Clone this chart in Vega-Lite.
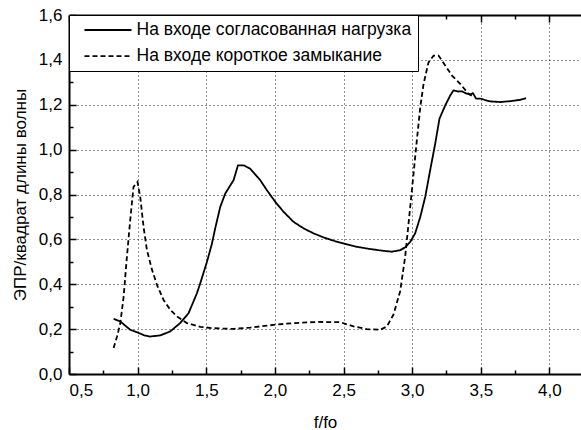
{
  "$schema": "https://vega.github.io/schema/vega-lite/v6.json",
  "width": 512,
  "height": 359,
  "autosize": {"type": "none"},
  "padding": {"left": 69, "top": 15, "right": 0, "bottom": 56},
  "config": {
    "view": {"stroke": null},
    "font": "Liberation Sans",
    "axis": {"labelFont": "Liberation Sans", "titleFont": "Liberation Sans", "labelColor": "#000", "titleColor": "#000", "titleFontWeight": "normal"}
  },
  "datasets": {
    "curves": [
      {"f": 0.825, "v": 0.246, "s": "На входе согласованная нагрузка"},
      {"f": 0.874, "v": 0.234, "s": "На входе согласованная нагрузка"},
      {"f": 0.946, "v": 0.197, "s": "На входе согласованная нагрузка"},
      {"f": 1.0, "v": 0.185, "s": "На входе согласованная нагрузка"},
      {"f": 1.05, "v": 0.172, "s": "На входе согласованная нагрузка"},
      {"f": 1.09, "v": 0.167, "s": "На входе согласованная нагрузка"},
      {"f": 1.165, "v": 0.172, "s": "На входе согласованная нагрузка"},
      {"f": 1.238, "v": 0.19, "s": "На входе согласованная нагрузка"},
      {"f": 1.31, "v": 0.227, "s": "На входе согласованная нагрузка"},
      {"f": 1.371, "v": 0.271, "s": "На входе согласованная нагрузка"},
      {"f": 1.432, "v": 0.36, "s": "На входе согласованная нагрузка"},
      {"f": 1.456, "v": 0.404, "s": "На входе согласованная нагрузка"},
      {"f": 1.505, "v": 0.5, "s": "На входе согласованная нагрузка"},
      {"f": 1.541, "v": 0.58, "s": "На входе согласованная нагрузка"},
      {"f": 1.565, "v": 0.649, "s": "На входе согласованная нагрузка"},
      {"f": 1.602, "v": 0.745, "s": "На входе согласованная нагрузка"},
      {"f": 1.638, "v": 0.804, "s": "На входе согласованная нагрузка"},
      {"f": 1.699, "v": 0.864, "s": "На входе согласованная нагрузка"},
      {"f": 1.731, "v": 0.93, "s": "На входе согласованная нагрузка"},
      {"f": 1.772, "v": 0.93, "s": "На входе согласованная нагрузка"},
      {"f": 1.82, "v": 0.915, "s": "На входе согласованная нагрузка"},
      {"f": 1.893, "v": 0.864, "s": "На входе согласованная нагрузка"},
      {"f": 1.942, "v": 0.819, "s": "На входе согласованная нагрузка"},
      {"f": 2.003, "v": 0.767, "s": "На входе согласованная нагрузка"},
      {"f": 2.063, "v": 0.723, "s": "На входе согласованная нагрузка"},
      {"f": 2.136, "v": 0.678, "s": "На входе согласованная нагрузка"},
      {"f": 2.209, "v": 0.649, "s": "На входе согласованная нагрузка"},
      {"f": 2.281, "v": 0.627, "s": "На входе согласованная нагрузка"},
      {"f": 2.354, "v": 0.609, "s": "На входе согласованная нагрузка"},
      {"f": 2.427, "v": 0.594, "s": "На входе согласованная нагрузка"},
      {"f": 2.5, "v": 0.582, "s": "На входе согласованная нагрузка"},
      {"f": 2.597, "v": 0.567, "s": "На входе согласованная нагрузка"},
      {"f": 2.694, "v": 0.557, "s": "На входе согласованная нагрузка"},
      {"f": 2.791, "v": 0.549, "s": "На входе согласованная нагрузка"},
      {"f": 2.852, "v": 0.545, "s": "На входе согласованная нагрузка"},
      {"f": 2.913, "v": 0.552, "s": "На входе согласованная нагрузка"},
      {"f": 2.95, "v": 0.565, "s": "На входе согласованная нагрузка"},
      {"f": 2.986, "v": 0.589, "s": "На входе согласованная нагрузка"},
      {"f": 3.022, "v": 0.627, "s": "На входе согласованная нагрузка"},
      {"f": 3.059, "v": 0.7, "s": "На входе согласованная нагрузка"},
      {"f": 3.095, "v": 0.789, "s": "На входе согласованная нагрузка"},
      {"f": 3.131, "v": 0.908, "s": "На входе согласованная нагрузка"},
      {"f": 3.168, "v": 1.027, "s": "На входе согласованная нагрузка"},
      {"f": 3.199, "v": 1.138, "s": "На входе согласованная нагрузка"},
      {"f": 3.241, "v": 1.197, "s": "На входе согласованная нагрузка"},
      {"f": 3.277, "v": 1.241, "s": "На входе согласованная нагрузка"},
      {"f": 3.301, "v": 1.264, "s": "На входе согласованная нагрузка"},
      {"f": 3.338, "v": 1.259, "s": "На входе согласованная нагрузка"},
      {"f": 3.362, "v": 1.26, "s": "На входе согласованная нагрузка"},
      {"f": 3.399, "v": 1.249, "s": "На входе согласованная нагрузка"},
      {"f": 3.423, "v": 1.246, "s": "На входе согласованная нагрузка"},
      {"f": 3.442, "v": 1.252, "s": "На входе согласованная нагрузка"},
      {"f": 3.466, "v": 1.227, "s": "На входе согласованная нагрузка"},
      {"f": 3.496, "v": 1.227, "s": "На входе согласованная нагрузка"},
      {"f": 3.569, "v": 1.215, "s": "На входе согласованная нагрузка"},
      {"f": 3.641, "v": 1.212, "s": "На входе согласованная нагрузка"},
      {"f": 3.714, "v": 1.216, "s": "На входе согласованная нагрузка"},
      {"f": 3.787, "v": 1.222, "s": "На входе согласованная нагрузка"},
      {"f": 3.83, "v": 1.229, "s": "На входе согласованная нагрузка"},
      {"f": 0.825, "v": 0.116, "s": "На входе короткое замыкание"},
      {"f": 0.85, "v": 0.167, "s": "На входе короткое замыкание"},
      {"f": 0.874, "v": 0.227, "s": "На входе короткое замыкание"},
      {"f": 0.898, "v": 0.345, "s": "На входе короткое замыкание"},
      {"f": 0.922, "v": 0.523, "s": "На входе короткое замыкание"},
      {"f": 0.946, "v": 0.686, "s": "На входе короткое замыкание"},
      {"f": 0.97, "v": 0.834, "s": "На входе короткое замыкание"},
      {"f": 0.999, "v": 0.856, "s": "На входе короткое замыкание"},
      {"f": 1.019, "v": 0.789, "s": "На входе короткое замыкание"},
      {"f": 1.043, "v": 0.656, "s": "На входе короткое замыкание"},
      {"f": 1.068, "v": 0.552, "s": "На входе короткое замыкание"},
      {"f": 1.105, "v": 0.464, "s": "На входе короткое замыкание"},
      {"f": 1.141, "v": 0.397, "s": "На входе короткое замыкание"},
      {"f": 1.189, "v": 0.33, "s": "На входе короткое замыкание"},
      {"f": 1.238, "v": 0.286, "s": "На входе короткое замыкание"},
      {"f": 1.287, "v": 0.256, "s": "На входе короткое замыкание"},
      {"f": 1.359, "v": 0.227, "s": "На входе короткое замыкание"},
      {"f": 1.456, "v": 0.21, "s": "На входе короткое замыкание"},
      {"f": 1.553, "v": 0.204, "s": "На входе короткое замыкание"},
      {"f": 1.699, "v": 0.201, "s": "На входе короткое замыкание"},
      {"f": 1.82, "v": 0.207, "s": "На входе короткое замыкание"},
      {"f": 1.99, "v": 0.219, "s": "На входе короткое замыкание"},
      {"f": 2.136, "v": 0.227, "s": "На входе короткое замыкание"},
      {"f": 2.306, "v": 0.232, "s": "На входе короткое замыкание"},
      {"f": 2.476, "v": 0.231, "s": "На входе короткое замыкание"},
      {"f": 2.573, "v": 0.212, "s": "На входе короткое замыкание"},
      {"f": 2.67, "v": 0.2, "s": "На входе короткое замыкание"},
      {"f": 2.767, "v": 0.197, "s": "На входе короткое замыкание"},
      {"f": 2.816, "v": 0.212, "s": "На входе короткое замыкание"},
      {"f": 2.864, "v": 0.265, "s": "На входе короткое замыкание"},
      {"f": 2.913, "v": 0.37, "s": "На входе короткое замыкание"},
      {"f": 2.949, "v": 0.523, "s": "На входе короткое замыкание"},
      {"f": 2.986, "v": 0.745, "s": "На входе короткое замыкание"},
      {"f": 3.01, "v": 0.893, "s": "На входе короткое замыкание"},
      {"f": 3.034, "v": 1.041, "s": "На входе короткое замыкание"},
      {"f": 3.059, "v": 1.189, "s": "На входе короткое замыкание"},
      {"f": 3.083, "v": 1.293, "s": "На входе короткое замыкание"},
      {"f": 3.119, "v": 1.389, "s": "На входе короткое замыкание"},
      {"f": 3.156, "v": 1.419, "s": "На входе короткое замыкание"},
      {"f": 3.192, "v": 1.419, "s": "На входе короткое замыкание"},
      {"f": 3.241, "v": 1.375, "s": "На входе короткое замыкание"},
      {"f": 3.29, "v": 1.33, "s": "На входе короткое замыкание"},
      {"f": 3.35, "v": 1.293, "s": "На входе короткое замыкание"},
      {"f": 3.41, "v": 1.249, "s": "На входе короткое замыкание"},
      {"f": 3.44, "v": 1.238, "s": "На входе короткое замыкание"}
    ]
  },
  "data": {"name": "curves"},
  "layer": [
    {
      "mark": {"type": "line", "color": "#000", "strokeWidth": 1.8, "clip": true},
      "encoding": {
        "x": {
          "field": "f", "type": "quantitative",
          "scale": {"domain": [0.5, 4.23], "nice": false, "zero": false},
          "axis": {
            "orient": "bottom",
            "values": [0.5, 1.0, 1.5, 2.0, 2.5, 3.0, 3.5, 4.0],
            "labelExpr": "replace(format(datum.value, '.1f'), '.', ',')",
            "labelFontSize": 17,
            "labelPadding": 8,
            "ticks": false,
            "domainColor": "#000",
            "domainWidth": 2,
            "grid": true,
            "gridColor": "#222",
            "gridDash": [1, 3],
            "gridWidth": 1,
            "gridOpacity": {"condition": {"test": "datum.value > 0.6", "value": 1}, "value": 0},
            "title": "f/fo",
            "titleFontSize": 17,
            "titlePadding": 16
          }
        },
        "y": {
          "field": "v", "type": "quantitative",
          "scale": {"domain": [0, 1.6], "nice": false},
          "axis": {
            "orient": "left",
            "values": [0, 0.2, 0.4, 0.6, 0.8, 1.0, 1.2, 1.4, 1.6],
            "labelExpr": "replace(format(datum.value, '.1f'), '.', ',')",
            "labelFontSize": 17,
            "labelPadding": 7,
            "ticks": false,
            "domainColor": "#000",
            "domainWidth": 2,
            "grid": true,
            "gridColor": "#222",
            "gridDash": [1, 3],
            "gridWidth": 1,
            "gridOpacity": {"condition": {"test": "datum.value > 0.05 && datum.value < 1.55", "value": 1}, "value": 0},
            "title": "ЭПР/квадрат длины волны",
            "titleFontSize": 17,
            "titlePadding": 9
          }
        },
        "strokeDash": {
          "field": "s", "type": "nominal",
          "scale": {"domain": ["На входе согласованная нагрузка", "На входе короткое замыкание"], "range": [[1, 0], [5, 3]]},
          "legend": {
            "orient": "top-left",
            "offset": 0,
            "title": null,
            "fillColor": "#fff",
            "strokeColor": "#000",
            "padding": 6,
            "symbolType": "M-2.94,0H2.94",
            "symbolSize": 256,
            "symbolStrokeWidth": 1.8,
            "symbolStrokeColor": "#000",
            "symbolOffset": 24,
            "labelOffset": 19.5,
            "labelFontSize": 17.5,
            "labelFont": "Liberation Sans",
            "labelColor": "#000",
            "labelLimit": 400,
            "rowPadding": 8.2
          }
        }
      }
    },
    {
      "mark": {"type": "rule", "opacity": 0},
      "encoding": {
        "x": {
          "field": "f", "type": "quantitative",
          "axis": {
            "orient": "top",
            "offset": -359,
            "values": [0.5, 0.75, 1.0, 1.25, 1.5, 1.75, 2.0, 2.25, 2.5, 2.75, 3.0, 3.25, 3.5, 3.75, 4.0],
            "labels": false,
            "domain": false,
            "grid": false,
            "title": null,
            "tickSize": {"condition": {"test": "abs(datum.value*2 - round(datum.value*2)) < 0.001", "value": 7}, "value": 4},
            "tickColor": "#000",
            "tickWidth": 1.5
          }
        }
      }
    },
    {
      "mark": {"type": "rule", "opacity": 0},
      "encoding": {
        "x": {
          "field": "f", "type": "quantitative",
          "axis": {
            "orient": "bottom",
            "offset": -359,
            "values": [0.5, 0.75, 1.0, 1.25, 1.5, 1.75, 2.0, 2.25, 2.5, 2.75, 3.0, 3.25, 3.5, 3.75, 4.0],
            "labels": false,
            "domain": true,
            "domainColor": "#000",
            "domainWidth": 2,
            "grid": false,
            "title": null,
            "tickSize": {"condition": {"test": "abs(datum.value*2 - round(datum.value*2)) < 0.001", "value": 7}, "value": 4},
            "tickColor": "#000",
            "tickWidth": 1.5
          }
        }
      }
    },
    {
      "mark": {"type": "rule", "opacity": 0},
      "encoding": {
        "y": {
          "field": "v", "type": "quantitative",
          "axis": {
            "orient": "right",
            "offset": -512,
            "values": [0, 0.1, 0.2, 0.3, 0.4, 0.5, 0.6, 0.7, 0.8, 0.9, 1.0, 1.1, 1.2, 1.3, 1.4, 1.5, 1.6],
            "labels": false,
            "domain": false,
            "grid": false,
            "title": null,
            "tickSize": {"condition": {"test": "abs(datum.value*5 - round(datum.value*5)) < 0.001", "value": 7}, "value": 4},
            "tickColor": "#000",
            "tickWidth": 1.5
          }
        }
      }
    }
  ],
  "resolve": {"axis": {"x": "independent", "y": "independent"}}
}
